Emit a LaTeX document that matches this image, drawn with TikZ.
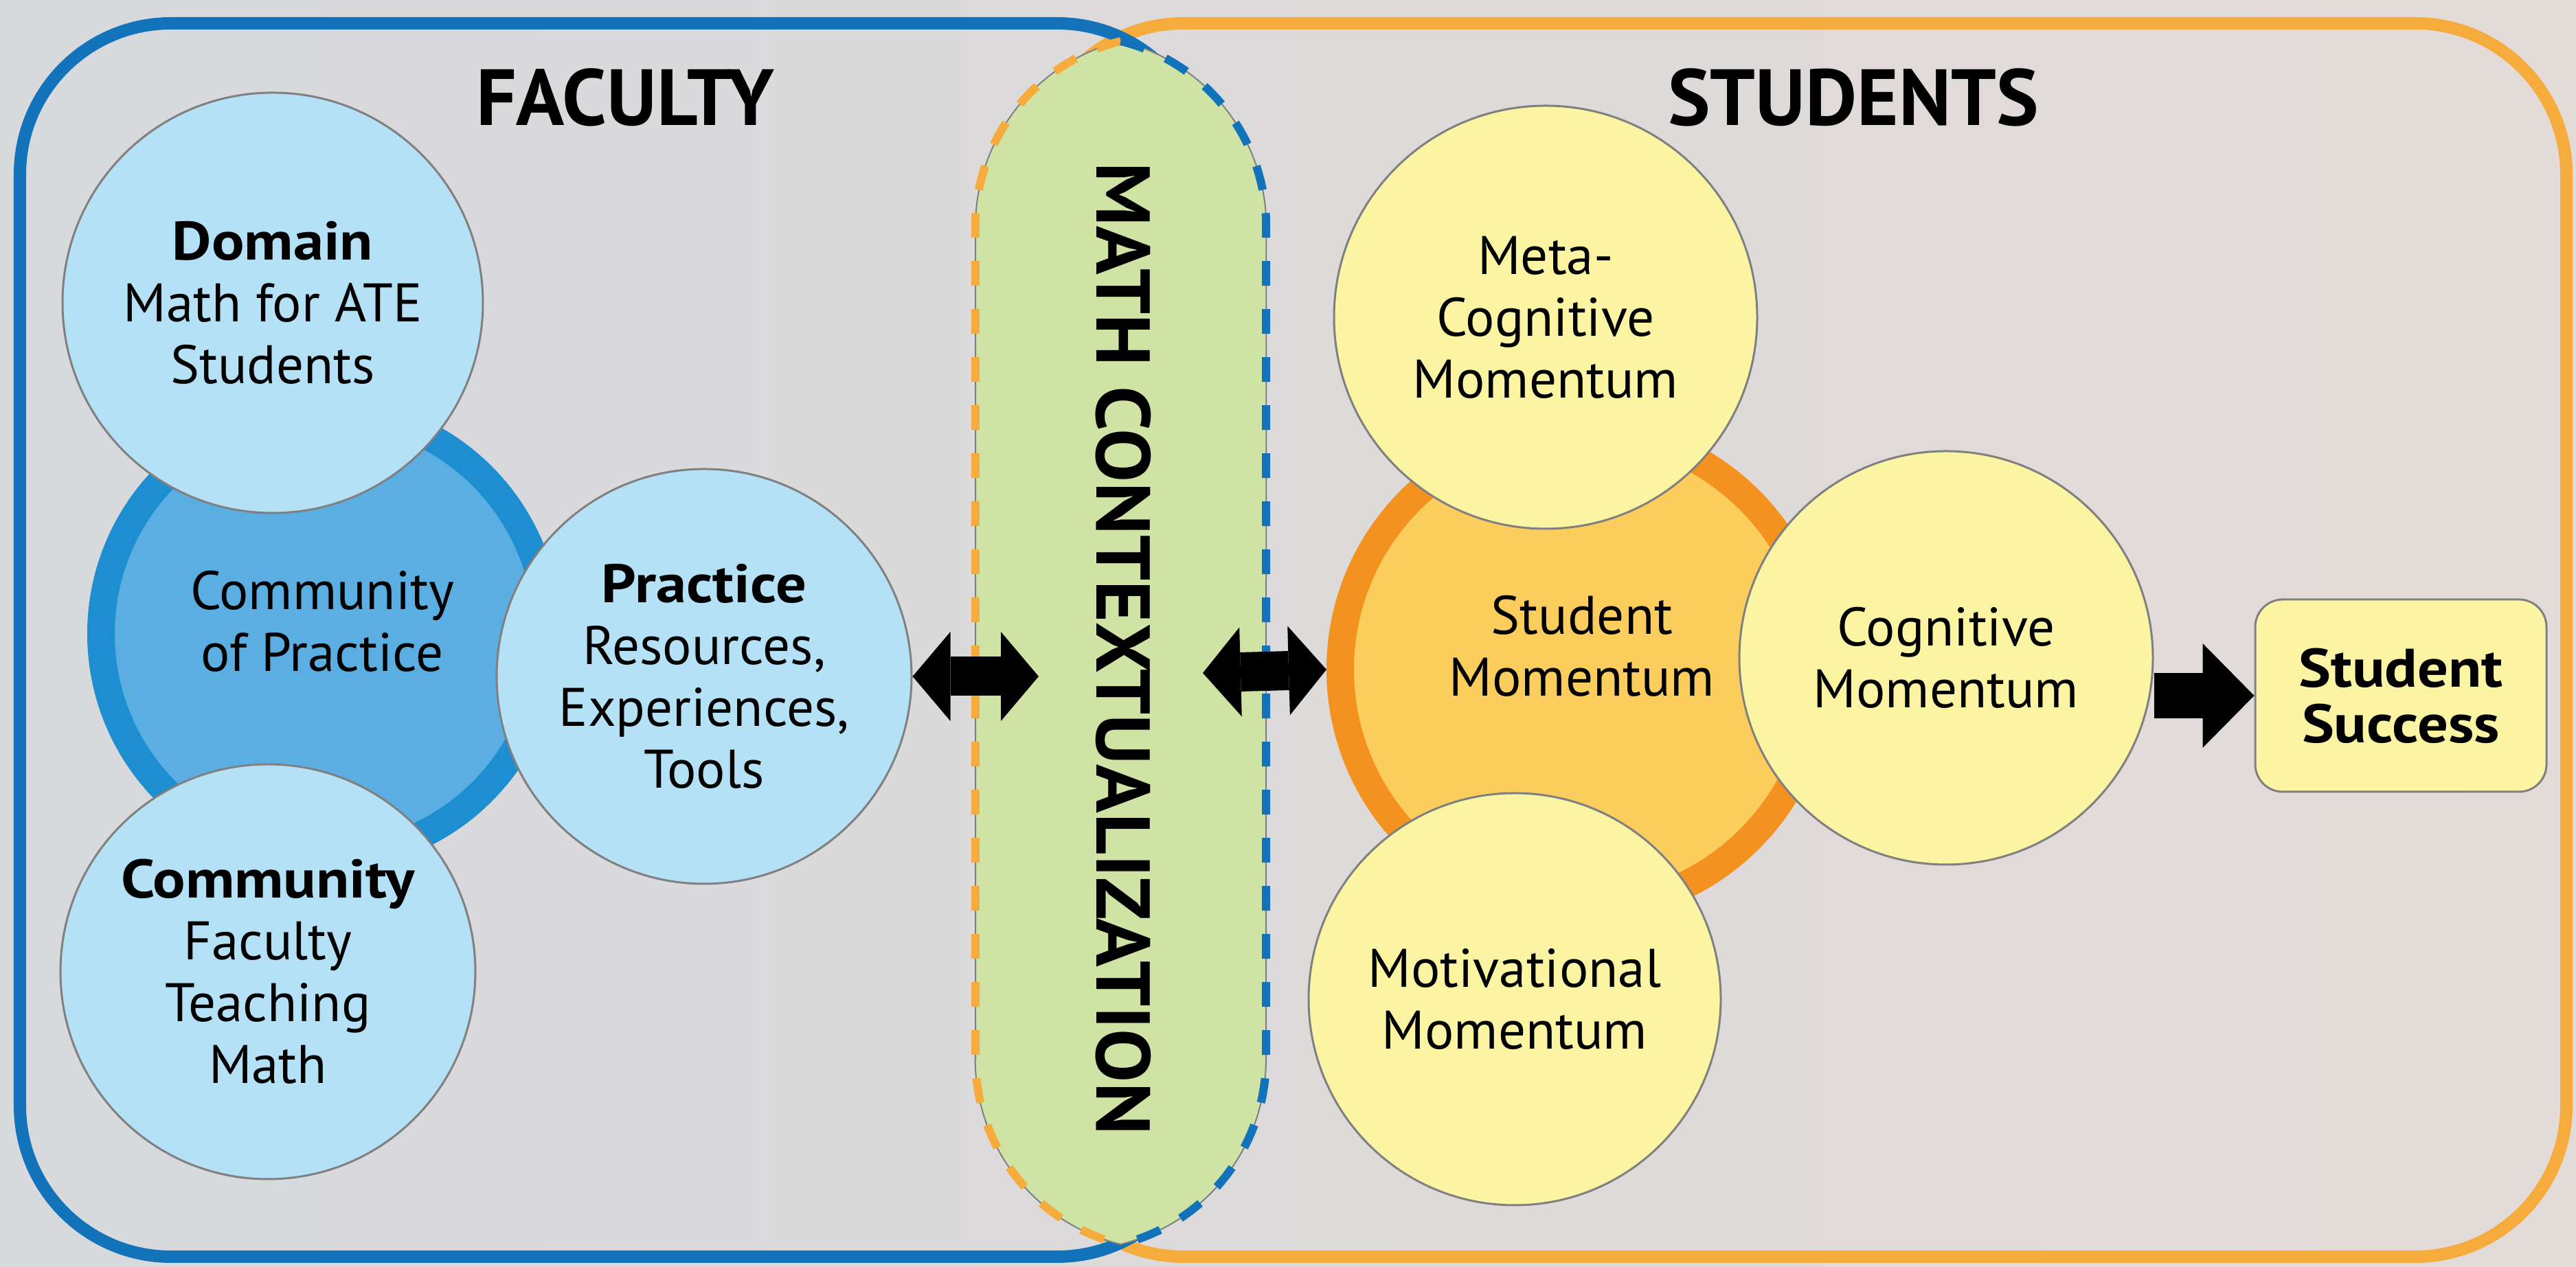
\documentclass[tikz,border=0pt]{standalone}
\usepackage{fontspec}
\setmainfont{PT Sans}
\newfontfamily\widebold{PT Sans}[FakeStretch=1.12]
\newfontfamily\ctxfont{PT Sans}[FakeStretch=1.05]
\usetikzlibrary{arrows.meta}

\definecolor{facblue}{HTML}{B5E1F7}
\definecolor{hubdark}{HTML}{1D8ECF}
\definecolor{hublight}{HTML}{5BAEE2}
\definecolor{boxblue}{HTML}{1273BA}
\definecolor{boxorange}{HTML}{F6AB3D}
\definecolor{ctxgreen}{HTML}{CFE3A4}
\definecolor{stuyellow}{HTML}{FBF5A3}
\definecolor{momdark}{HTML}{F3921E}
\definecolor{momlight}{HTML}{FBCD5D}
\definecolor{rimgray}{HTML}{808080}
\definecolor{bgleft}{HTML}{D7D9DD}
\definecolor{bgright}{HTML}{E3DBD8}

\newcommand{\bodysize}{\fontsize{22.5}{25.6}\selectfont}
\newcommand{\succsize}{\fontsize{22.5}{23}\selectfont\widebold\bfseries}
\newcommand{\titlesize}{\fontsize{33}{36}\selectfont\bfseries}
\newcommand{\ctxsize}{\fontsize{31.6}{34}\selectfont\ctxfont\bfseries}
\newcommand{\head}[1]{{\widebold\bfseries #1}}

\tikzset{
    ball/.style={circle, draw=rimgray, line width=0.3mm, inner sep=0pt, align=center, font=\bodysize}, % every plain circle
    facball/.style={ball, fill=facblue}, % circles on the faculty side
    stuball/.style={ball, fill=stuyellow}, % circles on the student side
    hub/.style={circle, inner sep=0pt, line width=0.4cm}, % the big ring behind the circles
    frame/.style={rounded corners=2.2cm, line width=0.18cm}, % the two outer boxes
    ctxdash/.style={line width=0.12cm, dash pattern=on 0.36cm off 0.34cm}, % dashed rim of the middle band
    fatarrow/.style={line width=0.57cm, {Triangle[length=0.55cm, width=1.3cm, line width=0pt]}-{Triangle[length=0.55cm, width=1.3cm, line width=0pt]}}, % double arrows
    bigarrow/.style={line width=0.66cm, -{Triangle[length=0.75cm, width=1.52cm, line width=0pt]}}, % arrow to the goal
}

\begin{document}
\begin{tikzpicture}
    \useasboundingbox (0,0) rectangle (37.5,18.45);
    \shade[left color=bgleft, right color=bgright] (0,0) rectangle (37.5,18.45);
    \draw[frame, draw=boxorange] (15.03,0.15) rectangle (37.36,18.11);
    \draw[frame, draw=boxblue] (0.29,0.15) rectangle (17.59,18.11);

    % faculty side
    \node[hub, draw=hubdark, fill=hublight, minimum size=6.5cm] (cop) at (4.72,9.22) {};
    \node[font=\bodysize, align=center] (coptext) at (4.69,9.40) {Community\\of Practice};
    \node[facball, minimum size=6.12cm] (domain) at (3.97,14.04) {\head{Domain}\\Math for ATE\\Students};
    \node[facball, minimum size=6.04cm] (community) at (3.90,4.30) {\head{Community}\\Faculty\\Teaching\\Math};
    \node[facball, minimum size=6.04cm] (practice) at (10.25,8.60) {\head{Practice}\\Resources,\\Experiences,\\Tools};
    \node[font=\titlesize, anchor=base] (faculty) at (9.10,16.62) {FACULTY};

    % middle band
    \filldraw[fill=ctxgreen, draw=rimgray, line width=0.2mm] (14.20,3.03) -- (14.20,15.15)
        arc[start angle=180, end angle=103.8, radius=2.78]
        arc[start angle=76.2, end angle=0, radius=2.78] -- (18.43,3.03)
        arc[start angle=0, end angle=-76.2, radius=2.78]
        arc[start angle=-103.8, end angle=-180, radius=2.78] -- cycle;
    \draw[ctxdash, boxorange] (16.315,17.85) arc[start angle=103.8, end angle=180, radius=2.78] -- (14.20,3.03)
        arc[start angle=180, end angle=256.2, radius=2.78];
    \draw[ctxdash, boxblue] (16.315,17.85) arc[start angle=76.2, end angle=0, radius=2.78] -- (18.43,3.03)
        arc[start angle=0, end angle=-76.2, radius=2.78];
    \node[rotate=-90, font=\ctxsize] (ctx) at (16.35,9.00) {MATH CONTEXTUALIZATION};
    \coordinate (ctxin) at (15.12,8.60);
    \coordinate (ctxout) at (17.51,8.65);

    % student side
    \node[hub, draw=momdark, fill=momlight, minimum size=6.98cm] (momentum) at (23.00,8.70) {};
    \node[font=\bodysize, align=center] (momtext) at (23.03,9.04) {Student\\Momentum};
    \node[stuball, minimum size=6.16cm] (meta) at (22.50,13.83) {Meta-\\Cognitive\\Momentum};
    \node[stuball, minimum size=6.02cm] (cognitive) at (28.33,8.87) {Cognitive\\Momentum};
    \node[stuball, minimum size=6.00cm] (motivational) at (22.05,3.90) {Motivational\\Momentum};
    \node[draw=rimgray, line width=0.3mm, fill=stuyellow, rounded corners=0.4cm, minimum width=4.24cm, minimum height=2.8cm, align=center, font=\succsize] (success) at (34.95,8.32) {Student\\Success};
    \node[font=\titlesize, anchor=base] (students) at (26.98,16.62) {STUDENTS};

    \draw[fatarrow] (practice.east) -- (ctxin);
    \draw[fatarrow] (ctxout) -- (momentum.west);
    \draw[bigarrow] (cognitive.east |- success.west) -- (success.west);
\end{tikzpicture}
\end{document}
